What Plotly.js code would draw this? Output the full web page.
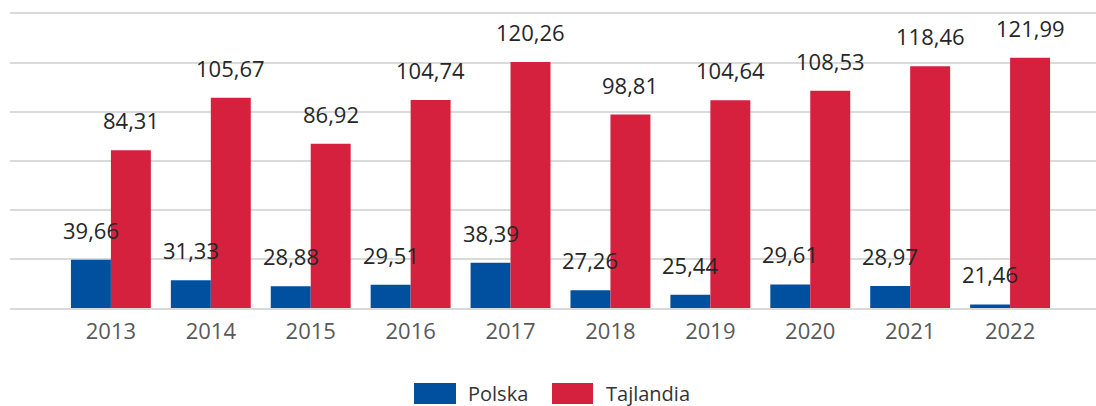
<!DOCTYPE html>
<html>
<head>
<meta charset="utf-8">
<script src="https://cdn.plot.ly/plotly-3.0.1.min.js"></script>
<style>
  html, body { margin: 0; padding: 0; background: #fff; }
  #chart { width: 1096px; height: 406px; }
</style>
</head>
<body>
<div id="chart"></div>
<script>
const years = ["2013", "2014", "2015", "2016", "2017", "2018", "2019", "2020", "2021", "2022"];
const seriesNames = ["Polska", "Tajlandia"];
const polska = [39.66, 31.33, 28.88, 29.51, 38.39, 27.26, 25.44, 29.61, 28.97, 21.46];
const tajlandia = [84.31, 105.67, 86.92, 104.74, 120.26, 98.81, 104.64, 108.53, 118.46, 121.99];
const colors = ["#0050a0", "#d6213e"];

const FONT = "Open Sans, Noto Sans, sans-serif";
const W = 1096, H = 406;
const M = { l: 10, r: 0, t: 11, b: 98 };
const plotW = W - M.l - M.r, plotH = H - M.t - M.b;
const px2x = p => (p - M.l) / plotW;
const py2y = p => (H - M.b - p) / plotH;

const fmt = v => v.toFixed(2).replace(".", ",");

const traces = [polska, tajlandia].map((vals, i) => ({
  type: "bar",
  name: seriesNames[i],
  x: years,
  y: vals,
  marker: { color: colors[i], line: { width: 0 } },
  showlegend: false,
  hoverinfo: "x+y"
}));

const annotations = [];
[polska, tajlandia].forEach((vals, i) => {
  vals.forEach((v, j) => {
    annotations.push({
      x: j, y: v, xref: "x", yref: "y",
      text: fmt(v), showarrow: false,
      xshift: i === 0 ? -20 : 20, yshift: 30,
      xanchor: "center", yanchor: "middle",
      font: { family: FONT, size: 22, color: "#262626" }
    });
  });
});

// custom legend with wide swatches
const legendItems = [
  { box: [414, 456], textX: 466 },
  { box: [552, 593], textX: 604 }
];
const shapes = [];
legendItems.forEach((it, i) => {
  shapes.push({
    type: "rect", xref: "paper", yref: "paper",
    x0: px2x(it.box[0]), x1: px2x(it.box[1]),
    y0: py2y(404), y1: py2y(383),
    fillcolor: colors[i], line: { width: 0 }
  });
  annotations.push({
    xref: "paper", yref: "paper",
    x: px2x(it.textX), y: py2y(393.5),
    xanchor: "left", yanchor: "middle",
    text: seriesNames[i], showarrow: false,
    font: { family: FONT, size: 20, color: "#333333" }
  });
});

const layout = {
  width: W, height: H,
  margin: M,
  paper_bgcolor: "#ffffff",
  plot_bgcolor: "#ffffff",
  barmode: "group",
  bargap: 0.2,
  bargroupgap: 0,
  font: { family: FONT },
  xaxis: {
    type: "category",
    range: [-1.01, 9.86],
    showgrid: false,
    showline: true,
    linecolor: "#d9d9d9",
    linewidth: 2,
    ticks: "",
    ticklabelstandoff: 3,
    tickfont: { family: FONT, size: 22, color: "#595959" },
    fixedrange: true
  },
  yaxis: {
    range: [20, 141],
    dtick: 20,
    tick0: 0,
    showgrid: true,
    gridcolor: "#dadada",
    gridwidth: 2,
    zeroline: false,
    showticklabels: false,
    ticks: "",
    fixedrange: true
  },
  annotations: annotations,
  shapes: shapes,
  showlegend: false
};

Plotly.newPlot("chart", traces, layout, { displayModeBar: false, staticPlot: true });
</script>
</body>
</html>
